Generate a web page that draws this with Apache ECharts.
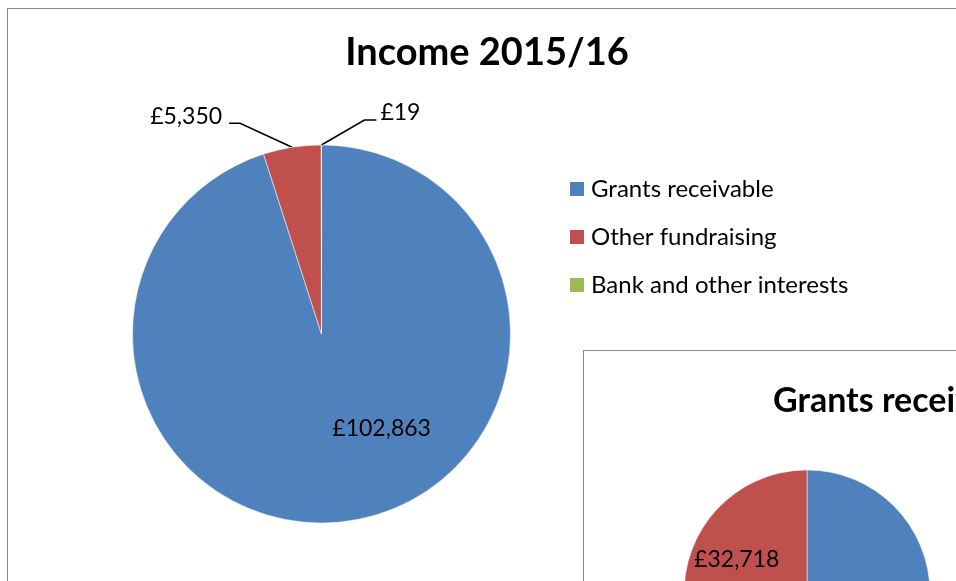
<!DOCTYPE html>
<html>
<head>
<meta charset="utf-8">
<script src="https://cdn.jsdelivr.net/npm/echarts@6/dist/echarts.min.js"></script>
<style>
  html, body { margin: 0; padding: 0; width: 956px; height: 581px; overflow: hidden; background: #fff; }
  #c1 { position: absolute; left: 7px; top: 8px; width: 958px; height: 640px; border: 1px solid #898989; background: #fff; }
  #c2 { position: absolute; left: 583px; top: 350px; width: 560px; height: 420px; border: 1px solid #898989; background: #fff; }
</style>
</head>
<body>
<div id="c1"></div>
<div id="c2"></div>
<script>
// ---- data ----
const incomeTitle = 'Income 2015/16';
const incomeCategories = ['Grants receivable', 'Other fundraising', 'Bank and other interests'];
const incomeValues = [102863, 5350, 19];

const grantsTitle = 'Grants receivable';
const grantsCategories = ['Other grants', 'Grant A'];
const grantsValues = [70145, 32718];

const colors = ['#4F81BD', '#C0504D', '#9BBB59'];
const FONT = 'Lato';

function money(v) { return '£' + v.toLocaleString('en-GB'); }

// ---- chart 1 ----
const chart1 = echarts.init(document.getElementById('c1'), null, { renderer: 'canvas' });
chart1.setOption({
  animation: false,
  color: colors,
  title: {
    text: incomeTitle,
    left: 'center',
    top: 20,
    textStyle: { fontFamily: FONT, fontSize: 38, fontWeight: 'bold', color: '#000' }
  },
  legend: {
    orient: 'vertical',
    left: 555,
    top: 163,
    itemWidth: 16,
    itemHeight: 16,
    itemGap: 24,
    icon: 'rect',
    data: incomeCategories,
    textStyle: { fontFamily: FONT, fontSize: 24, color: '#000', padding: [0, 0, 0, 1] }
  },
  series: [{
    type: 'pie',
    center: [313.5, 325],
    radius: [0, 189],
    startAngle: 90,
    clockwise: true,
    avoidLabelOverlap: false,
    itemStyle: { borderColor: '#fff', borderWidth: 0.5 },
    label: {
      show: true,
      position: 'outside',
      fontFamily: FONT,
      fontSize: 23,
      color: '#000',
      formatter: p => money(p.value)
    },
    labelLine: { show: true, lineStyle: { color: '#000', width: 1.6 } },
    labelLayout: function (p) {
      if (p.dataIndex === 0) {
        return { dx: 45, dy: -2 };
      }
      const a = p.labelLinePoints[0];
      if (p.dataIndex === 1) {
        return {
          x: a[0] - 70, y: a[1] - 31, align: 'right', verticalAlign: 'middle',
          labelLinePoints: [a, [a[0] - 52, a[1] - 24], [a[0] - 63, a[1] - 24]]
        };
      }
      return {
        x: a[0] + 59, y: a[1] - 32, align: 'left', verticalAlign: 'middle',
        labelLinePoints: [a, [a[0] + 43, a[1] - 25], [a[0] + 55, a[1] - 25]]
      };
    },
    emphasis: { disabled: true },
    data: incomeCategories.map((n, i) => (
      i === 0
        ? { name: n, value: incomeValues[i], label: { position: 'inside' }, labelLine: { show: false } }
        : { name: n, value: incomeValues[i] }
    ))
  }]
});

// ---- chart 2 ----
const chart2 = echarts.init(document.getElementById('c2'), null, { renderer: 'canvas' });
chart2.setOption({
  animation: false,
  color: colors,
  title: {
    text: grantsTitle,
    left: 184,
    top: 28,
    textStyle: { fontFamily: FONT, fontSize: 34, fontWeight: 'bold', color: '#000' }
  },
  series: [{
    type: 'pie',
    center: [223, 242],
    radius: [0, 123],
    startAngle: 90,
    clockwise: true,
    avoidLabelOverlap: false,
    itemStyle: { borderColor: '#fff', borderWidth: 0.5 },
    label: {
      show: true,
      position: 'inside',
      fontFamily: FONT,
      fontSize: 23,
      color: '#000',
      formatter: p => money(p.value)
    },
    labelLayout: function (p) {
      return { dx: -16, dy: 1 };
    },
    emphasis: { disabled: true },
    data: grantsCategories.map((n, i) => ({ name: n, value: grantsValues[i] }))
  }]
});
</script>
</body>
</html>
